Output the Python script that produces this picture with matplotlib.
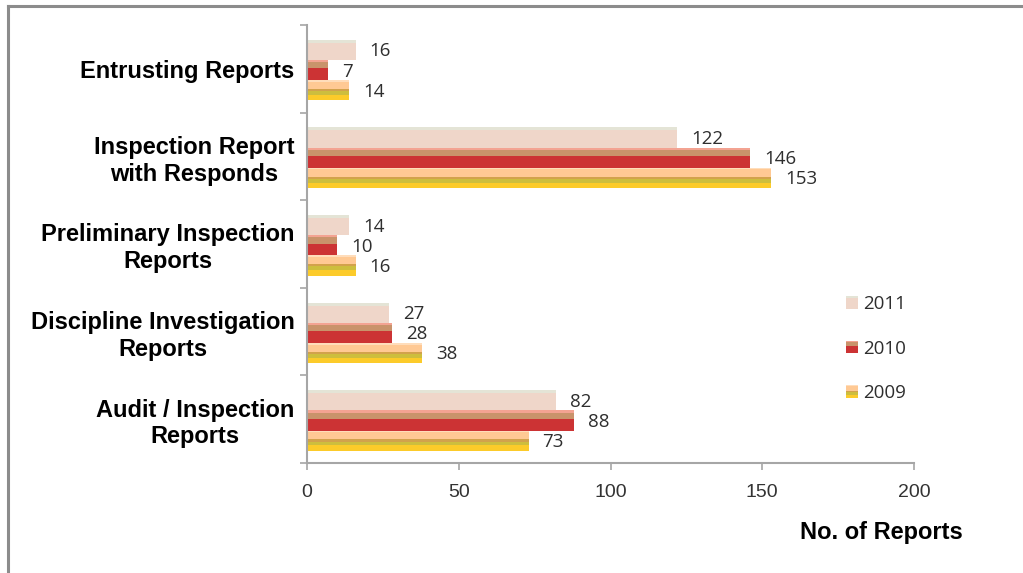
import numpy as np
import matplotlib.pyplot as plt
from matplotlib.patches import Rectangle
from matplotlib.legend_handler import HandlerBase
from matplotlib.lines import Line2D

categories = ['Entrusting Reports', 'Inspection Report\nwith Responds',
              'Preliminary Inspection\nReports', 'Discipline Investigation\nReports',
              'Audit / Inspection\nReports']
years = ['2011', '2010', '2009']
vals_2011 = [16, 122, 14, 27, 82]
vals_2010 = [7, 146, 10, 28, 88]
vals_2009 = [14, 153, 16, 38, 73]
x_ticks = [0, 50, 100, 150, 200]

# horizontal colour bands of each bar, top to bottom (fraction, colour)
bands = {
    '2011': [(0.14, '#E4E4D6'), (0.86, '#EFD6C9')],
    '2010': [(0.11, '#F3A392'), (0.30, '#C9936B'), (0.59, '#CC3334')],
    '2009': [(0.08, '#FFDDBB'), (0.36, '#FFC994'), (0.11, '#D2A24C'),
             (0.19, '#CDBE3E'), (0.26, '#FCCB2A')],
}

fig = plt.figure(figsize=(10.23, 5.73), dpi=100)
ax = fig.add_axes([307 / 1023, 1 - 463 / 573, 607 / 1023, 438 / 573])

h = 0.23
y = np.arange(len(categories)) + 0.015
series = [vals_2011, vals_2010, vals_2009]
for k, (yr, vals) in enumerate(zip(years, series)):
    yc = y + (k - 1) * h
    top = yc - h / 2
    cum = 0.0
    for frac, col in bands[yr]:
        ax.barh(top + (cum + frac / 2) * h, vals, height=frac * h, color=col,
                linewidth=0)
        cum += frac
    for yy, v in zip(yc, vals):
        ax.annotate(str(v), (v, yy), xytext=(10, -1), textcoords='offset points',
                    ha='left', va='center', fontsize=13.5, family='Open Sans',
                    color='#2E2E2E')

ax.set_xlim(0, 200)
ax.set_ylim(len(categories) - 0.5, -0.5)
ax.set_xticks(x_ticks)
ax.set_xticklabels([str(t) for t in x_ticks], family=['Liberation Sans Narrow', 'Liberation Sans'],
                   fontsize=14, color='#333333')
ax.tick_params(axis='x', length=5, width=1.2, color='#A6A6A6', pad=10)

ax.set_yticks(np.arange(len(categories) + 1) - 0.5)
ax.set_yticklabels([])
ax.set_yticks(np.arange(len(categories)), minor=True)
ax.set_yticklabels(categories, minor=True, fontsize=17, fontweight='bold',
                   family='Liberation Sans')
for lab in ax.get_yticklabels(minor=True):
    lab.set_multialignment('center')
ax.tick_params(axis='y', which='major', length=5, width=1.2, color='#A6A6A6')
ax.tick_params(axis='y', which='minor', length=0, pad=9)

for s in ['top', 'right']:
    ax.spines[s].set_visible(False)
for s in ['left', 'bottom']:
    ax.spines[s].set_color('#A6A6A6')
    ax.spines[s].set_linewidth(1.5)

fig.text(963 / 1023, 1 - 533 / 573, 'No. of Reports', ha='right', va='center',
         fontsize=17, fontweight='bold', family='Liberation Sans')


class BandHandler(HandlerBase):
    def __init__(self, b):
        super().__init__()
        self.b = b

    def create_artists(self, legend, orig_handle, xdescent, ydescent, width, height,
                       fontsize, trans):
        arts = []
        cum = 0.0
        for frac, col in self.b:
            r = Rectangle((-xdescent, -ydescent + height * (1 - cum - frac)), width,
                          height * frac, facecolor=col, edgecolor='none', transform=trans)
            arts.append(r)
            cum += frac
        return arts


handles = [Line2D([], [], label=yr) for yr in years]
hmap = {hd: BandHandler(bands[yr]) for hd, yr in zip(handles, years)}
fig.legend(handles=handles, handler_map=hmap, loc='upper left',
           bbox_to_anchor=(846 / 1023, 1 - 295 / 573), frameon=False,
           prop={'family': 'Open Sans', 'size': 13.5}, labelcolor='#2E2E2E',
           handlelength=0.65, handleheight=0.65, handletextpad=0.25,
           labelspacing=1.42, borderpad=0, borderaxespad=0)

# outer frame of the picture
fig.add_artist(Line2D([8 / 1023, 8 / 1023], [0, 1 - 6 / 573], transform=fig.transFigure,
                      color='#8C8C8C', lw=2.2))
fig.add_artist(Line2D([8 / 1023, 1], [1 - 6 / 573, 1 - 6 / 573], transform=fig.transFigure,
                      color='#8C8C8C', lw=2.2))

fig.savefig('out.png', dpi=100)
